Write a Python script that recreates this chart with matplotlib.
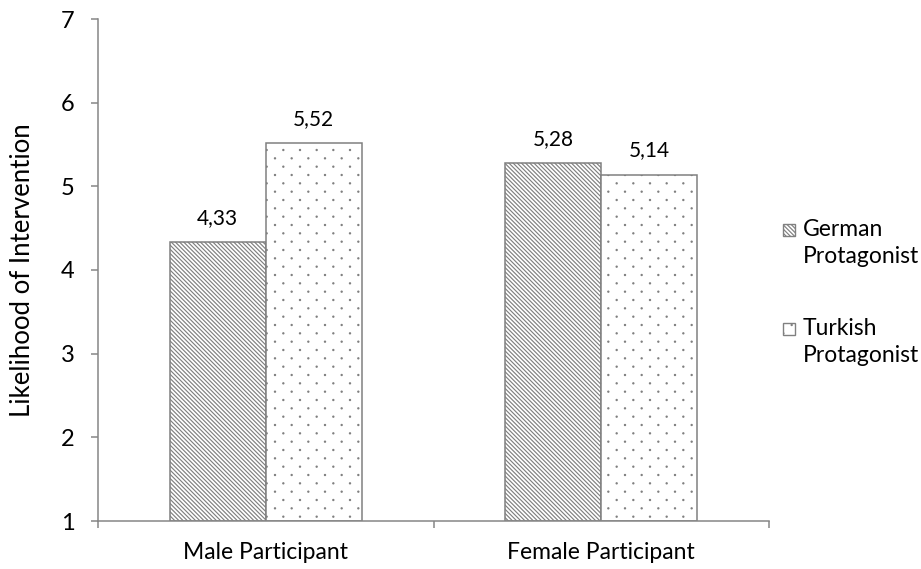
import matplotlib
matplotlib.use("Agg")
import matplotlib.pyplot as plt
import matplotlib.hatch as mhatch
from matplotlib.patches import Rectangle
import numpy as np

plt.rcParams['font.family'] = ['Lato', 'DejaVu Sans']
plt.rcParams['hatch.linewidth'] = 0.85


# Excel style dot fill: staggered dots, rows twice as close as the columns
class ExcelDots(mhatch.SmallFilledCircles):
    size = 0.035

    def __init__(self, hatch, density):
        super().__init__(hatch, density)
        n = self.num_rows
        if n:
            self.num_shapes = (n + 1) * (n + 1) + n * n
            self.num_vertices = self.num_shapes * len(self.shape_vertices)

    def set_vertices_and_codes(self, vertices, codes):
        n = self.num_rows
        off = 1.0 / n
        sv = self.shape_vertices * off * self.size
        vs, cs = [], []
        for row in range(2 * n + 1):
            if row % 2 == 0:
                cols = np.linspace(0, 1, n + 1)
            else:
                cols = np.linspace(off / 2, 1 - off / 2, n)
            for c in cols:
                vs.append(sv + [c, row * off / 2])
                cs.append(self.shape_codes)
        np.concatenate(vs, out=vertices)
        np.concatenate(cs, out=codes)


mhatch._hatch_types[mhatch._hatch_types.index(mhatch.SmallFilledCircles)] = ExcelDots

# data
categories = ["Male Participant", "Female Participant"]
series_names = ["German\nProtagonist", "Turkish\nProtagonist"]
german = [4.33, 5.28]
turkish = [5.52, 5.14]

hatches = ['\\' * 8, '.']
hatch_colors = ['#9c9c9c', '#b0b0b0']
grey = '#868686'

fig = plt.figure(figsize=(9.21, 5.69), dpi=100)
ax = fig.add_axes([98/921, 48/569, (769-98)/921, (521-19)/569])

x = np.arange(len(categories))
w = 0.286
for i, (vals, h, hc) in enumerate(zip([german, turkish], hatches, hatch_colors)):
    plt.rcParams['hatch.color'] = hc
    offs = (i - 0.5) * w
    ax.bar(x + offs, [v - 1 for v in vals], w, bottom=1, facecolor='white',
           edgecolor='#808080', linewidth=1.1, hatch=h)
    for xi, v in zip(x + offs, vals):
        ax.annotate(f"{v:.2f}".replace('.', ','), (xi, v), xytext=(0, 13),
                    textcoords='offset points', ha='center', va='baseline',
                    fontsize=15)

ax.set_xlim(-0.5, 1.5)
ax.set_ylim(1, 7)
ax.set_yticks(range(1, 8))
ax.set_xticks([-0.5, 0.5, 1.5])
ax.set_xticklabels([])
ax.set_xticks(x, minor=True)
ax.set_xticklabels(categories, minor=True, fontsize=16.5)
ax.tick_params(axis='x', which='minor', length=0, pad=15)
ax.tick_params(axis='x', which='major', length=5, color=grey, width=1.1)
ax.tick_params(axis='y', length=5, color=grey, width=1.1, labelsize=17, pad=12)

for s in ['top', 'right']:
    ax.spines[s].set_visible(False)
for s in ['left', 'bottom']:
    ax.spines[s].set_color(grey)
    ax.spines[s].set_linewidth(1.1)

ax.set_ylabel("Likelihood of Intervention", fontsize=18.5)
ax.yaxis.set_label_coords(-0.094, 0.5)

# legend drawn by hand so the swatch sits on the first text line (as in Excel)
for i, (name, h, hc) in enumerate(zip(series_names, hatches, hatch_colors)):
    plt.rcParams['hatch.color'] = hc
    base = 236 + i * 99
    fig.patches.append(Rectangle((783/921, 1 - base/569), 12/921, 12/569,
                                 transform=fig.transFigure, facecolor='white',
                                 edgecolor='#808080', linewidth=1.0, hatch=h))
    for k, line in enumerate(name.split('\n')):
        fig.text(803/921, 1 - (base + 27 * k)/569, line, ha='left',
                 va='baseline', fontsize=16.5)

fig.savefig("out.png", dpi=100)
